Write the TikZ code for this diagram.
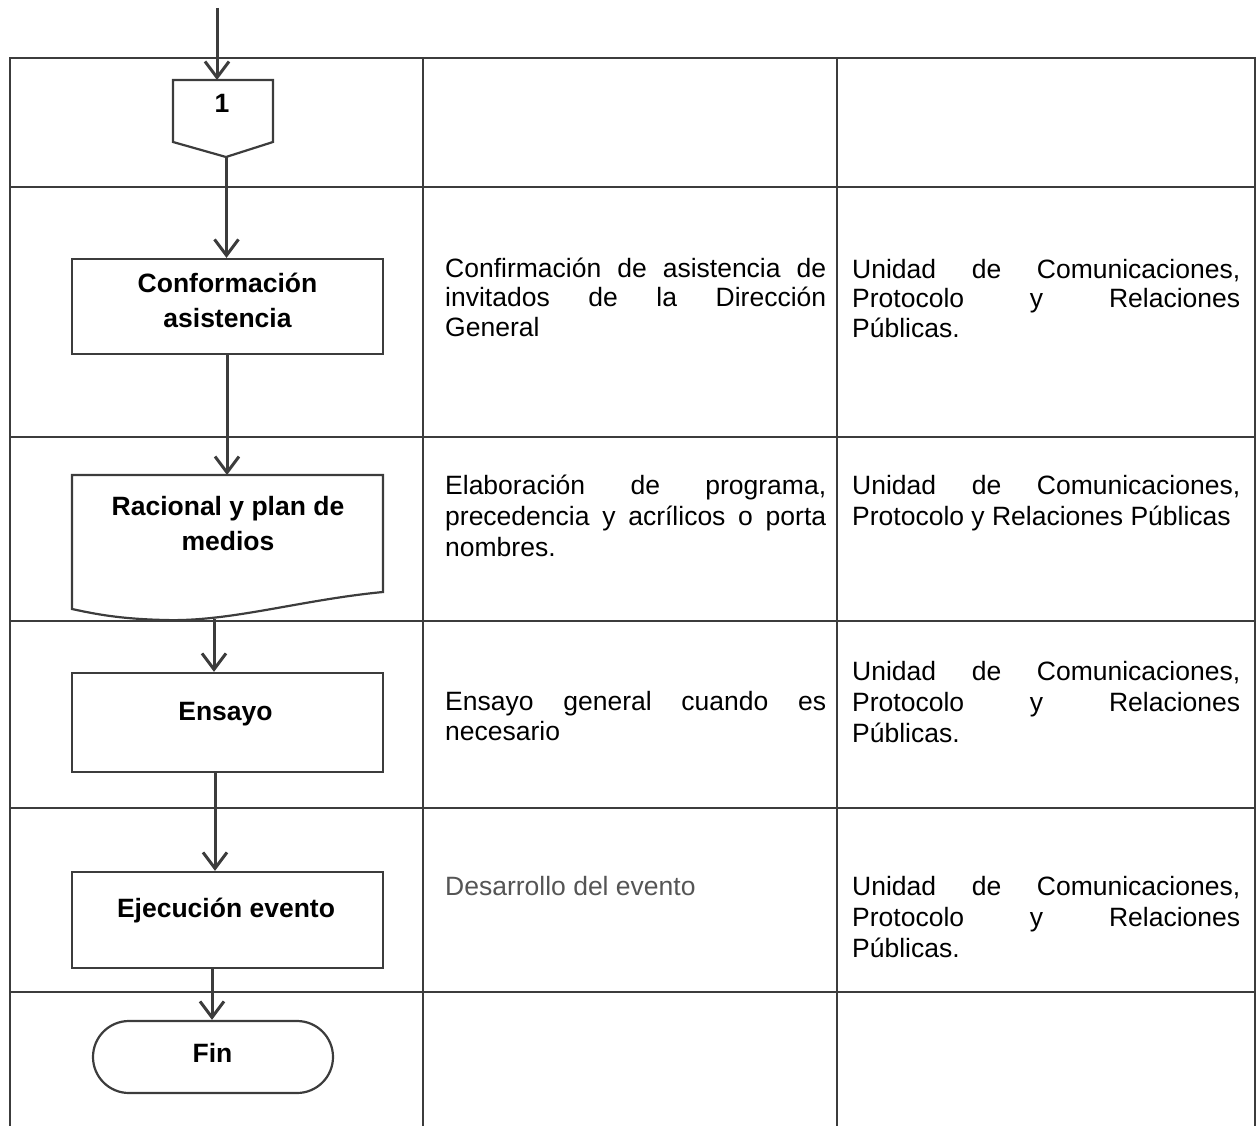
\documentclass[tikz,border=0pt]{standalone}
\usepackage{fontspec}
\setmainfont{Liberation Sans}
\usetikzlibrary{arrows.meta}
\definecolor{lc}{HTML}{3C3C3C}
\definecolor{gtxt}{HTML}{555555}
\newcommand{\jline}[1]{\hbox to\hsize{#1}}
\newcommand{\nline}[1]{\hbox{#1}}
\newcommand{\cellpar}[3]{\vtop{\hsize=#1\baselineskip=#2\parindent=0pt #3}}
\begin{document}
\begin{tikzpicture}[x=1pt,y=-1pt,
  grid/.style={draw=lc, line width=2pt},
  shapebox/.style={draw=lc, line width=2.2pt, minimum width=311pt, inner sep=0pt},
  outline/.style={draw=lc, line width=2.2pt},
  arr/.style={draw=lc, line width=3pt, -{Straight Barb[length=16pt,width=24pt]}},
  lbl/.style={font=\fontsize{26.5}{35}\selectfont\bfseries, inner sep=0pt, anchor=base},
  txt/.style={font=\fontsize{26.5}{30}\selectfont, inner sep=0pt, anchor=base west},
]
\useasboundingbox (0,0) rectangle (1258,1126);

% table
\draw[grid] (10,1126) -- (10,58) -- (1255,58) -- (1255,1126);
\foreach \yy in {187,437,621,808,992} \draw[grid] (10,\yy) -- (1255,\yy);
\foreach \xx in {423,837} \draw[grid] (\xx,58) -- (\xx,1126);

% connector 1
\draw[outline] (173,80) -- (273,80) -- (273,142) -- (226,157) -- (173,142) -- cycle;
\node[lbl] (one) at (222,113) {1};
\coordinate (start) at (217,8);
\coordinate (c1top) at (217,80);
\coordinate (c1bot) at (226.5,157);

% boxes
\node[shapebox, minimum height=95pt] (conf) at (227.5,306.5) {};
\node[lbl] (conft) at (227.5,292) {\begin{tabular}[t]{@{}c@{}}Conformación\\asistencia\end{tabular}};

\draw[outline] (72,475) -- (383,475) -- (383,592)
  .. controls (300,600) and (230,622) .. (165,620)
  .. controls (120,619) and (95,614) .. (72,609) -- cycle;
\coordinate (ractop) at (227,475);
\coordinate (racbot) at (214,619);
\node[lbl] (ract) at (228,515) {\begin{tabular}[t]{@{}c@{}}Racional y plan de\\medios\end{tabular}};

\node[shapebox, minimum height=99pt] (ens) at (227.5,722.5) {};
\node[lbl] (enst) at (225.5,720) {Ensayo};

\node[shapebox, minimum height=96pt] (eje) at (227.5,920) {};
\node[lbl] (ejet) at (226,917) {Ejecución evento};

\node[draw=lc, line width=2.2pt, rounded corners=36pt, minimum width=240pt, minimum height=72pt, inner sep=0pt] (fin) at (213,1057) {};
\node[lbl] (fint) at (212.5,1062) {Fin};

% connectors
\draw[arr] (start) -- (c1top);
\draw[arr] (c1bot) -- (c1bot |- conf.north);
\draw[arr] (ractop |- conf.south) -- (ractop);
\draw[arr] (racbot) -- (racbot |- ens.north);
\coordinate (a4) at (215,0);
\draw[arr] (a4 |- ens.south) -- (a4 |- eje.north);
\coordinate (a5) at (212,0);
\draw[arr] (a5 |- eje.south) -- (a5 |- fin.north);

% column texts
\node[txt] (d2) at (445,277) {\cellpar{381pt}{29.5pt}{%
  \jline{Confirmación de asistencia de}
  \jline{invitados de la Dirección}
  \nline{General}}};
\node[txt] (r2) at (852,278) {\cellpar{388pt}{29.5pt}{%
  \jline{Unidad de Comunicaciones,}
  \jline{Protocolo y Relaciones}
  \nline{Públicas.}}};

\node[txt] (d3) at (445,494) {\cellpar{381pt}{31pt}{%
  \jline{Elaboración de programa,}
  \jline{precedencia y acrílicos o porta}
  \nline{nombres.}}};
\node[txt] (r3) at (852,494) {\cellpar{388pt}{31pt}{%
  \jline{Unidad de Comunicaciones,}
  \nline{Protocolo y Relaciones Públicas}}};

\node[txt] (d4) at (445,710) {\cellpar{381pt}{30pt}{%
  \jline{Ensayo general cuando es}
  \nline{necesario}}};
\node[txt] (r4) at (852,680) {\cellpar{388pt}{31pt}{%
  \jline{Unidad de Comunicaciones,}
  \jline{Protocolo y Relaciones}
  \nline{Públicas.}}};

\node[txt, text=gtxt] (d5) at (445,895) {Desarrollo del evento};
\node[txt] (r5) at (852,895) {\cellpar{388pt}{31pt}{%
  \jline{Unidad de Comunicaciones,}
  \jline{Protocolo y Relaciones}
  \nline{Públicas.}}};
\end{tikzpicture}
\end{document}
